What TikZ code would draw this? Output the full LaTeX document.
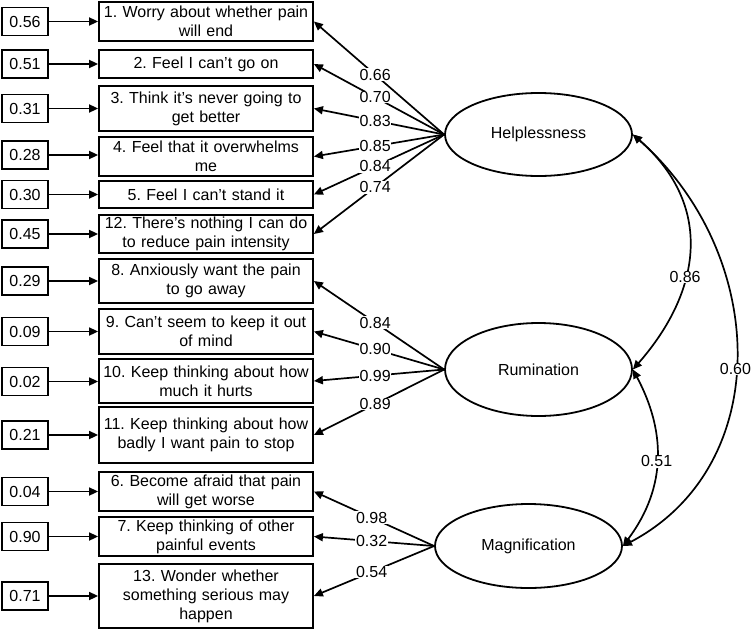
\documentclass[tikz,border=0pt]{standalone}
\usepackage{fontspec}
\setmainfont{Liberation Sans}
\usetikzlibrary{shapes.geometric,arrows.meta}
\begin{document}
\frenchspacing
\begin{tikzpicture}[x=1pt,y=-1pt,font=\fontsize{16}{19}\selectfont,
  ebox/.style={draw,line width=1.8pt,minimum width=46pt,minimum height=28pt,inner sep=0pt},
  ibox/.style={draw,line width=1.8pt,minimum width=214pt,text width=210pt,align=center,inner sep=0pt},
  latent/.style={draw,ellipse,line width=1.8pt,minimum width=187pt,inner sep=0pt},
  arr/.style={line width=1.7pt,-{Triangle[length=9pt,width=8pt]}},
  dbl/.style={line width=1.7pt,{Triangle[length=9pt,width=8pt]}-{Triangle[length=9pt,width=8pt]}},
  lbl/.style={fill=white,inner sep=0.6pt}]
\useasboundingbox (0,0) rectangle (751,629);
% items
\node[ibox,minimum height=39pt] (i1) at (206,21.5) {1. Worry about whether pain\\will end};
\node[ibox,minimum height=28pt] (i2) at (206,64) {2. Feel I can’t go on};
\node[ibox,minimum height=45pt] (i3) at (206,108.5) {3. Think it’s never going to\\get better};
\node[ibox,minimum height=39pt] (i4) at (206,156.5) {4. Feel that it overwhelms\\me};
\node[ibox,minimum height=27pt] (i5) at (206,194.5) {5. Feel I can’t stand it};
\node[ibox,minimum height=38pt] (i12) at (206,234) {12. There’s nothing I can do\\to reduce pain intensity};
\node[ibox,minimum height=44pt] (i8) at (206,281) {8. Anxiously want the pain\\to go away};
\node[ibox,minimum height=45pt] (i9) at (206,331.5) {9. Can’t seem to keep it out\\of mind};
\node[ibox,minimum height=44pt] (i10) at (206,381) {10. Keep thinking about how\\much it hurts};
\node[ibox,minimum height=56pt] (i11) at (206,435) {11. Keep thinking about how\\badly I want pain to stop};
\node[ibox,minimum height=39pt] (i6) at (206,491.5) {6. Become afraid that pain\\will get worse};
\node[ibox,minimum height=39pt] (i7) at (206,536.5) {7. Keep thinking of other\\painful events};
\node[ibox,minimum height=64pt] (i13) at (206,596) {13. Wonder whether\\something serious may\\happen};
% errors
\node[ebox] (e1) at (25,21.5) {0.56};
\node[ebox] (e2) at (25,64) {0.51};
\node[ebox] (e3) at (25,108.5) {0.31};
\node[ebox] (e4) at (25,155) {0.28};
\node[ebox] (e5) at (25,194.5) {0.30};
\node[ebox] (e12) at (25,234) {0.45};
\node[ebox] (e8) at (25,281) {0.29};
\node[ebox] (e9) at (25,331.5) {0.09};
\node[ebox] (e10) at (25,381.5) {0.02};
\node[ebox] (e11) at (25,435) {0.21};
\node[ebox] (e6) at (25,491.5) {0.04};
\node[ebox] (e7) at (25,536.5) {0.90};
\node[ebox] (e13) at (25,596) {0.71};
\foreach \k in {1,2,3,4,5,12,8,9,10,11,6,7,13}
  \draw[arr] (e\k.east) -- (e\k.east -| i\k.west);
% latents
\node[latent,minimum height=83pt] (H) at (538.5,134.5) {Helplessness};
\node[latent,minimum height=93pt] (R) at (538.5,369.5) {Rumination};
\node[latent,minimum height=84pt] (M) at (528.5,546) {Magnification};
% loadings
\draw[arr] (H.west) -- node[lbl,pos=0.53]{0.66} (i1.east);
\draw[arr] (H.west) -- node[lbl,pos=0.53]{0.70} (i2.east);
\draw[arr] (H.west) -- node[lbl,pos=0.53]{0.83} (i3.east);
\draw[arr] (H.west) -- node[lbl,pos=0.53]{0.85} (i4.east);
\draw[arr] (H.west) -- node[lbl,pos=0.53]{0.84} (i5.east);
\draw[arr] (H.west) -- node[lbl,pos=0.53]{0.74} (i12.east);
\draw[arr] (R.west) -- node[lbl,pos=0.53]{0.84} (i8.east);
\draw[arr] (R.west) -- node[lbl,pos=0.53]{0.90} (i9.east);
\draw[arr] (R.west) -- node[lbl,pos=0.53]{0.99} (i10.east);
\draw[arr] (R.west) -- node[lbl,pos=0.53]{0.89} (i11.east);
\draw[arr] (M.west) -- node[lbl,pos=0.52]{0.98} (i6.east);
\draw[arr] (M.west) -- node[lbl,pos=0.52]{0.32} (i7.east);
\draw[arr] (M.west) -- node[lbl,pos=0.52]{0.54} (i13.east);
% covariances
\draw[dbl] (H.east) .. controls +(80,70) and +(70,-80) .. node[lbl,pos=0.62]{0.86} (R.east);
\draw[dbl] (H.east) .. controls +(136,120) and +(152,-80) .. node[lbl,pos=0.53]{0.60} (M.east);
\draw[dbl] (R.east) .. controls +(32,60) and +(45,-60) .. node[lbl,pos=0.52]{0.51} (M.east);
\end{tikzpicture}
\end{document}
